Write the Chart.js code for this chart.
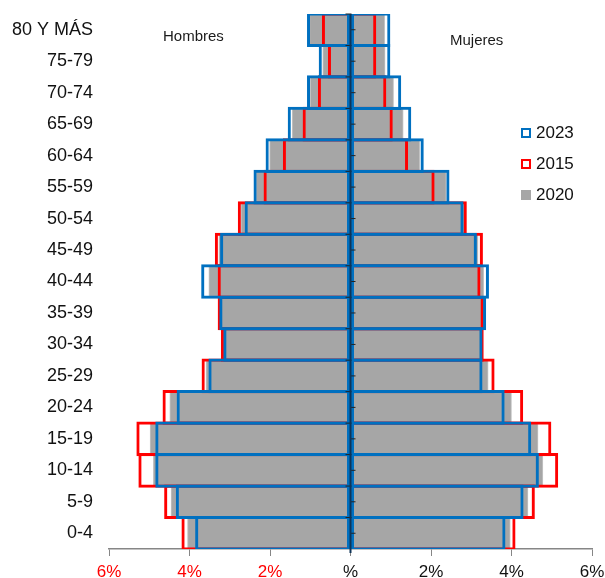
<!DOCTYPE html>
<html lang="es">
<head>
<meta charset="UTF-8">
<title>Pirámide de población</title>
<script src="https://cdn.jsdelivr.net/npm/chart.js@4.4.2/dist/chart.umd.min.js"></script>
<style>
    body { margin: 0; background: #fff; font-family: 'Liberation Sans', Arial, sans-serif; }
    .wrap { position: relative; width: 605px; height: 578px; }
    .side { position: absolute; font-size: 15px; color: #1a1a1a; }
    .legend { position: absolute; left: 521px; top: 117px; font-size: 17px; color: #111; }
    .legend div { height: 31px; display: flex; align-items: center; }
    .legend span.box { width: 10px; height: 10px; box-sizing: border-box; margin-right: 5px; }
</style>
</head>
<body>
<div class="wrap">
    <canvas id="pyr"></canvas>
    <div class="side" style="left:163px; top:27px;">Hombres</div>
    <div class="side" style="left:450px; top:31px;">Mujeres</div>
    <div class="legend">
        <div><span class="box" style="border:2.5px solid #0070c0"></span>2023</div>
        <div><span class="box" style="border:2.5px solid #ff0000"></span>2015</div>
        <div><span class="box" style="background:#a6a6a6"></span>2020</div>
    </div>
</div>
<script>
// grupos de edad, de arriba hacia abajo
const ageGroups = ['80 Y MÁS', '75-79', '70-74', '65-69', '60-64', '55-59', '50-54', '45-49',
    '40-44', '35-39', '30-34', '25-29', '20-24', '15-19', '10-14', '5-9', '0-4'];

// % de la población total
const men2023 = [1.08, 0.79, 1.08, 1.56, 2.11, 2.41, 2.63, 3.24, 3.71, 3.26, 3.16, 3.53, 4.32, 4.85, 4.85, 4.34, 3.86];
const women2023 = [0.99, 0.99, 1.26, 1.51, 1.82, 2.46, 2.81, 3.14, 3.44, 3.37, 3.28, 3.28, 3.83, 4.49, 4.68, 4.30, 3.85];
const men2015 = [0.71, 0.56, 0.81, 1.19, 1.68, 2.16, 2.80, 3.37, 3.30, 3.30, 3.22, 3.70, 4.67, 5.32, 5.27, 4.63, 4.20];
const women2015 = [0.64, 0.64, 0.89, 1.05, 1.43, 2.09, 2.89, 3.29, 3.23, 3.31, 3.31, 3.58, 4.29, 4.99, 5.16, 4.58, 4.10];
const men2020 = [1.02, 0.69, 1.00, 1.45, 2.01, 2.35, 2.72, 3.27, 3.52, 3.24, 3.16, 3.59, 4.49, 4.98, 4.90, 4.46, 4.05];
const women2020 = [0.85, 0.86, 1.07, 1.31, 1.72, 2.38, 2.85, 3.17, 3.31, 3.33, 3.28, 3.42, 4.00, 4.66, 4.78, 4.41, 3.97];

const xTicks = [-6, -4, -2, 0, 2, 4, 6];

const neg = arr => arr.map(v => -v);

function outline(label, data, color) {
    return {
        label: label, data: data,
        backgroundColor: 'rgba(0,0,0,0)', borderColor: color,
        borderWidth: 3, borderSkipped: false, grouped: false,
        barPercentage: 1.1, categoryPercentage: 1
    };
}
function filled(label, data) {
    return {
        label: label, data: data,
        backgroundColor: '#a6a6a6', borderColor: '#c4c4c4',
        borderWidth: 1, borderSkipped: false, grouped: false,
        barPercentage: 1, categoryPercentage: 1
    };
}

// eje central con marcas (en x = 0)
const centerAxis = {
    id: 'centerAxis',
    afterDatasetsDraw(chart) {
        const { ctx, scales: { x, y }, chartArea } = chart;
        const cx = x.getPixelForValue(0);
        const half = (y.getPixelForValue(1) - y.getPixelForValue(0)) / 2;
        ctx.save();
        ctx.strokeStyle = '#222';
        ctx.lineWidth = 1;
        ageGroups.forEach((g, i) => {
            const py = y.getPixelForValue(i);
            ctx.beginPath();
            ctx.moveTo(cx - 5, py - half); ctx.lineTo(cx + 1, py - half);
            ctx.moveTo(cx, py); ctx.lineTo(cx + 5, py);
            ctx.stroke();
        });
        ctx.strokeStyle = '#0f3458';
        ctx.lineWidth = 2;
        ctx.beginPath();
        ctx.moveTo(cx, chartArea.top);
        ctx.lineTo(cx, chartArea.bottom + 4);
        ctx.stroke();
        ctx.restore();
    }
};

new Chart(document.getElementById('pyr'), {
    type: 'bar',
    data: {
        labels: ageGroups,
        datasets: [
            outline('2023', neg(men2023), '#0070c0'),
            outline('2023 M', women2023, '#0070c0'),
            outline('2015', neg(men2015), '#ff0000'),
            outline('2015 M', women2015, '#ff0000'),
            filled('2020', neg(men2020)),
            filled('2020 M', women2020)
        ]
    },
    options: {
        indexAxis: 'y',
        responsive: true,
        maintainAspectRatio: false,
        animation: false,
        layout: { padding: { top: 14, right: 13, left: 0, bottom: 0 } },
        scales: {
            x: {
                min: -6, max: 6,
                afterBuildTicks: s => { s.ticks = xTicks.map(v => ({ value: v })); },
                afterFit: s => { s.height = 29; s.paddingLeft = 0; s.paddingRight = 0; },
                grid: { drawOnChartArea: false, drawTicks: true, tickLength: 7, color: '#868686' },
                border: { color: '#868686', width: 1.5 },
                ticks: {
                    padding: 6,
                    font: { size: 17, family: "'Liberation Sans', Arial, sans-serif" },
                    color: c => c.tick.value < 0 ? '#ff0000' : '#111',
                    callback: v => v === 0 ? '%' : Math.abs(v) + '%'
                }
            },
            y: {
                afterFit: s => { s.width = 109; s.paddingTop = 0; s.paddingBottom = 0; },
                grid: { display: false },
                border: { display: false },
                ticks: {
                    padding: 8,
                    font: { size: 18, family: "'Liberation Sans', Arial, sans-serif" },
                    color: '#111'
                }
            }
        },
        plugins: {
            legend: { display: false },
            tooltip: {
                callbacks: {
                    label: c => c.dataset.label.slice(0, 4) + ': ' + Math.abs(c.parsed.x).toFixed(2) + '%'
                }
            }
        }
    },
    plugins: [centerAxis]
});
</script>
</body>
</html>
